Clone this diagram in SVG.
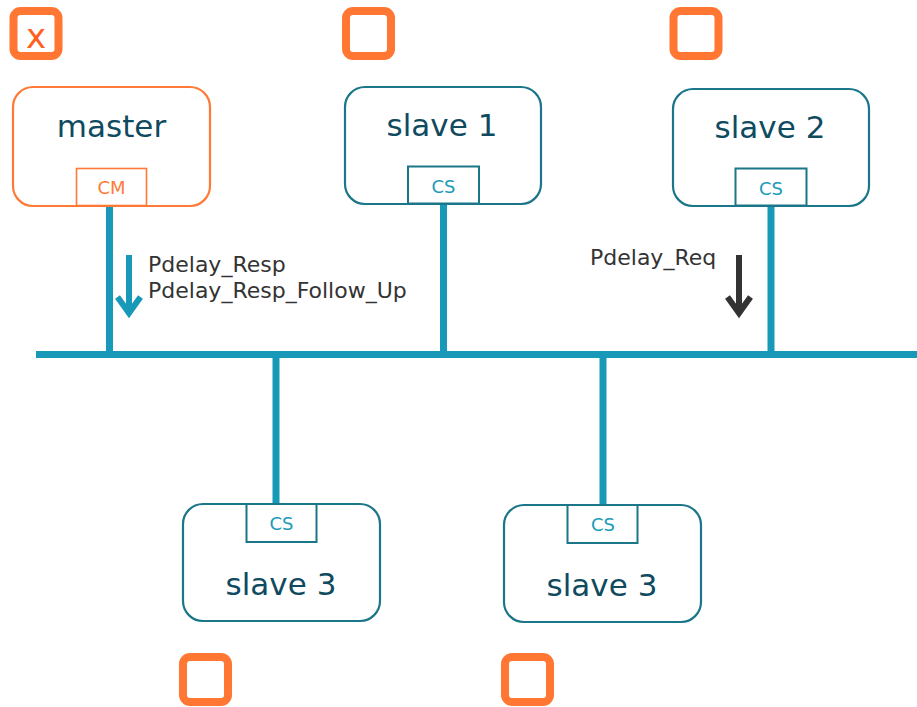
<svg xmlns="http://www.w3.org/2000/svg" width="917" height="707" viewBox="0 0 917 707">
  <defs>
    <style>
      .box { fill: #ffffff; stroke: #1a7688; stroke-width: 2.2; }
      .box-m { fill: #ffffff; stroke: #ff7a36; stroke-width: 2.2; }
      .port { fill: #ffffff; stroke: #1a7688; stroke-width: 2; }
      .port-m { fill: #ffffff; stroke: #ff7a36; stroke-width: 1.6; }
      .title { font-family: "DejaVu Sans", Verdana, sans-serif; font-size: 31px; fill: #0f4a5f; text-anchor: middle; }
      .ptxt { font-family: "DejaVu Sans", Verdana, sans-serif; font-size: 18px; fill: #1a9bb8; text-anchor: middle; }
      .ptxt-m { font-family: "DejaVu Sans", Verdana, sans-serif; font-size: 18px; fill: #ff7a36; text-anchor: middle; }
      .lbl { font-family: "DejaVu Sans", Verdana, sans-serif; font-size: 22px; fill: #333333; }
      .wire { stroke: #1899b7; stroke-width: 7; fill: none; }
      .chk { fill: none; stroke: #ff7733; stroke-width: 8; }
      .mark { font-family: "DejaVu Sans", Verdana, sans-serif; font-size: 34px; fill: #ff6020; text-anchor: middle; }
    </style>
  </defs>

  <!-- bus and drop lines -->
  <g id="connectors">
    <line class="wire" x1="36" y1="354.5" x2="917" y2="354.5"/>
    <line class="wire" x1="109.5" y1="205" x2="109.5" y2="354"/>
    <line class="wire" x1="443.5" y1="203" x2="443.5" y2="354"/>
    <line class="wire" x1="771" y1="206" x2="771" y2="354"/>
    <line class="wire" x1="276" y1="355" x2="276" y2="504"/>
    <line class="wire" x1="603" y1="355" x2="603" y2="504"/>
  </g>

  <!-- message arrows -->
  <g id="msg-resp">
    <line x1="129" y1="255" x2="129" y2="313" stroke="#1899b7" stroke-width="6"/>
    <polyline points="117.5,297 129,313 140.5,297" fill="none" stroke="#1899b7" stroke-width="6" stroke-linejoin="miter"/>
    <text class="lbl" x="148" y="272">Pdelay_Resp</text>
    <text class="lbl" x="148" y="298">Pdelay_Resp_Follow_Up</text>
  </g>
  <g id="msg-req">
    <line x1="739" y1="255" x2="739" y2="313" stroke="#333333" stroke-width="6"/>
    <polyline points="727.5,297 739,313 750.5,297" fill="none" stroke="#333333" stroke-width="6" stroke-linejoin="miter"/>
    <text class="lbl" x="590" y="265">Pdelay_Req</text>
  </g>

  <!-- nodes -->
  <g id="master">
    <rect class="box-m" x="13" y="87" width="197" height="119" rx="20"/>
    <text class="title" x="111.5" y="137">master</text>
    <rect class="port-m" x="76.5" y="168.5" width="70" height="37"/>
    <text class="ptxt-m" x="111.5" y="194">CM</text>
  </g>
  <g id="slave1">
    <rect class="box" x="345" y="87" width="196" height="117" rx="20"/>
    <text class="title" x="442" y="136">slave 1</text>
    <rect class="port" x="408" y="166.5" width="71" height="37"/>
    <text class="ptxt" x="443.5" y="193">CS</text>
  </g>
  <g id="slave2">
    <rect class="box" x="673" y="89" width="196" height="117" rx="20"/>
    <text class="title" x="770" y="138">slave 2</text>
    <rect class="port" x="735.5" y="168.5" width="71" height="37"/>
    <text class="ptxt" x="771" y="195">CS</text>
  </g>
  <g id="slave3a">
    <rect class="box" x="183" y="504" width="197" height="117" rx="20"/>
    <text class="title" x="281" y="595">slave 3</text>
    <rect class="port" x="246.5" y="504" width="70" height="38"/>
    <text class="ptxt" x="281.5" y="530">CS</text>
  </g>
  <g id="slave3b">
    <rect class="box" x="504" y="505" width="197" height="117" rx="20"/>
    <text class="title" x="602" y="596">slave 3</text>
    <rect class="port" x="567.5" y="505" width="70" height="38"/>
    <text class="ptxt" x="603" y="531">CS</text>
  </g>

  <!-- state checkboxes -->
  <g id="checkboxes">
    <rect class="chk" x="13.5" y="11" width="45" height="45" rx="7"/>
    <text class="mark" x="36" y="48">x</text>
    <rect class="chk" x="346" y="11" width="45" height="45" rx="7"/>
    <rect class="chk" x="673.5" y="11" width="45" height="45" rx="7"/>
    <rect class="chk" x="183" y="657" width="45" height="45" rx="7"/>
    <rect class="chk" x="505" y="657" width="45" height="45" rx="7"/>
  </g>
</svg>
